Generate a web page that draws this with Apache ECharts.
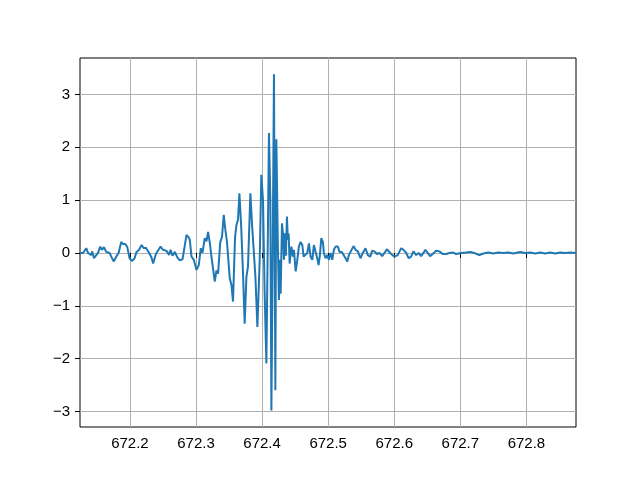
<!DOCTYPE html>
<html>
<head>
<meta charset="utf-8">
<script src="https://cdn.jsdelivr.net/npm/echarts@6/dist/echarts.min.js"></script>
<style>html,body{margin:0;padding:0;background:#fff}#c{width:640px;height:480px}</style>
</head>
<body>
<div id="c"></div>
<script>
const times = [
672.1245,672.1290,672.1340,672.1366,672.1391,672.1415,672.1430,672.1456,672.1491,672.1517,
672.1551,672.1577,672.1607,672.1642,672.1693,672.1718,672.1754,672.1793,672.1829,672.1869,
672.1894,672.1929,672.1959,672.1995,672.2030,672.2068,672.2101,672.2140,672.2177,672.2211,
672.2242,672.2292,672.2325,672.2352,672.2393,672.2428,672.2464,672.2503,672.2554,672.2594,
672.2615,672.2645,672.2680,672.2715,672.2755,672.2796,672.2816,672.2838,672.2857,672.2887,
672.2906,672.2932,672.2967,672.3008,672.3042,672.3073,672.3098,672.3133,672.3159,672.3183,
672.3208,672.3234,672.3258,672.3284,672.3310,672.3334,672.3367,672.3394,672.3420,672.3443,
672.3470,672.3511,672.3536,672.3560,672.3591,672.3612,672.3636,672.3657,672.3684,672.3712,
672.3737,672.3763,672.3787,672.3823,672.3847,672.3873,672.3899,672.3929,672.3964,672.3989,
672.4014,672.4039,672.4065,672.4089,672.4104,672.4125,672.4141,672.4160,672.4180,672.4201,
672.4216,672.4240,672.4255,672.4270,672.4281,672.4301,672.4316,672.4331,672.4346,672.4360,
672.4376,672.4390,672.4402,672.4417,672.4443,672.4467,672.4482,672.4508,672.4533,672.4557,
672.4583,672.4609,672.4628,672.4654,672.4684,672.4709,672.4734,672.4760,672.4784,672.4810,
672.4835,672.4855,672.4875,672.4896,672.4920,672.4935,672.4961,672.4987,672.5011,672.5036,
672.5062,672.5086,672.5112,672.5147,672.5172,672.5207,672.5237,672.5263,672.5289,672.5313,
672.5338,672.5384,672.5414,672.5449,672.5489,672.5524,672.5565,672.5600,672.5636,672.5666,
672.5701,672.5736,672.5777,672.5817,672.5852,672.5887,672.5917,672.5953,672.6003,672.6053,
672.6104,672.6139,672.6180,672.6219,672.6255,672.6290,672.6331,672.6370,672.6406,672.6441,
672.6471,672.6506,672.6542,672.6582,672.6633,672.6683,672.6733,672.6784,672.6834,672.6884,
672.6935,672.7011,672.7086,672.7151,672.7212,672.7287,672.7348,672.7423,672.7499,672.7574,
672.7650,672.7725,672.7801,672.7906,672.7982,672.8058,672.8133,672.8209,672.8284,672.8360,
672.8435,672.8511,672.8586,672.8662,672.8750
];
const strain = [
0.00,0.00,0.09,0.00,0.03,-0.04,0.03,-0.10,-0.04,0.00,
0.12,0.06,0.11,0.02,0.00,-0.07,-0.16,-0.07,0.00,0.21,
0.17,0.17,0.12,-0.10,-0.15,-0.11,0.02,0.06,0.15,0.09,
0.10,0.00,-0.08,-0.20,-0.02,0.05,0.12,0.06,0.04,-0.04,
0.06,-0.05,0.02,-0.08,-0.14,-0.12,-0.10,0.20,0.34,0.30,
0.25,-0.07,-0.13,-0.32,-0.23,0.09,0.00,0.28,0.22,0.40,
0.20,-0.07,-0.10,-0.54,-0.33,-0.39,0.20,0.31,0.72,0.45,
0.20,-0.48,-0.60,-0.92,0.30,0.53,0.63,1.13,0.50,-0.40,
-1.34,-0.45,-0.26,1.13,0.56,0.56,-0.45,-1.40,-0.13,1.48,
1.00,-0.77,-2.09,0.50,2.27,1.00,-2.98,-0.13,3.38,-2.60,
2.15,0.06,-0.89,-0.13,-0.77,0.56,0.37,-0.13,0.37,-0.05,
0.69,0.25,0.37,-0.20,0.12,-0.07,0.06,-0.35,-0.13,0.12,
0.21,0.15,-0.07,-0.10,0.00,0.18,-0.07,-0.13,0.15,0.02,
-0.10,-0.23,-0.04,0.28,0.21,0.00,-0.10,-0.04,-0.13,0.00,
-0.13,0.06,0.12,0.12,0.02,0.02,0.00,-0.10,-0.16,-0.04,
0.02,0.13,0.06,0.03,-0.10,0.00,0.09,-0.04,-0.07,0.04,
0.03,-0.02,0.00,-0.06,0.00,0.07,0.06,-0.02,-0.07,-0.04,
0.09,0.06,0.00,-0.10,-0.07,0.03,-0.04,0.00,-0.06,0.00,
0.06,0.00,-0.06,-0.02,0.04,0.03,-0.02,-0.02,0.00,0.01,
-0.02,0.00,0.01,0.02,0.00,-0.04,-0.01,0.01,-0.01,0.01,
0.00,0.01,-0.01,0.02,0.00,0.01,-0.01,0.01,-0.01,0.01,
-0.01,0.01,0.00,0.01,0.00
];
const xTicks = [672.2,672.3,672.4,672.5,672.6,672.7,672.8];
const yTicks = [-3,-2,-1,0,1,2,3];
const xRange = [672.1245,672.875];
const yRange = [-3.294,3.69];

const chart = echarts.init(document.getElementById('c'), null, {renderer:'canvas'});
const font = {fontFamily:'Liberation Sans', fontSize:15, color:'#000'};
chart.setOption({
  animation:false,
  backgroundColor:'#fff',
  grid:{left:80, right:64, top:58, bottom:53, show:true, borderColor:'#000', borderWidth:1, backgroundColor:'transparent'},
  xAxis:{type:'value', min:xRange[0], max:xRange[1],
    axisLine:{show:false},
    axisTick:{show:true, inside:false, length:5, lineStyle:{color:'#000',width:1}, customValues:xTicks},
    axisLabel:Object.assign({margin:9, customValues:xTicks, formatter:v=>v.toFixed(1)}, font),
    splitLine:{show:true, lineStyle:{color:'#b0b0b0', width:1}}
  },
  yAxis:{type:'value', min:yRange[0], max:yRange[1],
    axisLine:{show:false},
    axisTick:{show:true, inside:false, length:5, lineStyle:{color:'#000',width:1}, customValues:yTicks},
    axisLabel:Object.assign({margin:10, customValues:yTicks, formatter:v=>String(v).replace('-','\u2212')}, font),
    splitLine:{show:true, lineStyle:{color:'#b0b0b0', width:1}}
  },
  series:[{type:'line', data:times.map((t,i)=>[t,strain[i]]), showSymbol:false, symbol:'none',
    lineStyle:{color:'#1f77b4', width:2}, itemStyle:{color:'#1f77b4'}, z:3}]
});
</script>
</body>
</html>
